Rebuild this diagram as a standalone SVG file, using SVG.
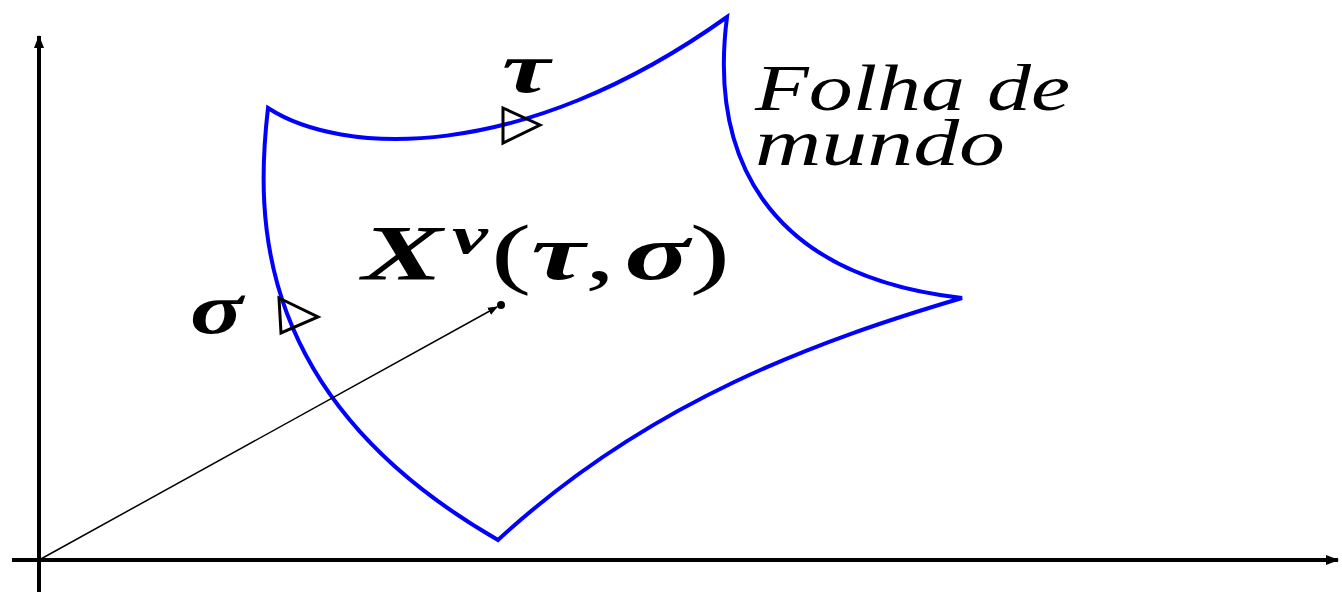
<svg xmlns="http://www.w3.org/2000/svg" width="1342" height="594" viewBox="0 0 1342 594">
<style>
.axis{stroke:#000;stroke-width:4;fill:none}
.sheet{stroke:#0000ff;stroke-width:4;fill:none;stroke-linejoin:miter}
.tri{stroke:#000;stroke-width:3;fill:none}
.math{font-family:"Liberation Serif",serif;font-style:italic;font-weight:bold;fill:#000}
.up{font-weight:normal;font-style:normal}
.txt{font-family:"Liberation Serif",serif;font-style:italic;fill:#000}
</style>
<defs>
<marker id="ah" markerWidth="10" markerHeight="10" refX="9" refY="5" orient="auto" markerUnits="userSpaceOnUse">
<path d="M0,1 L10,5 L0,9 Z" fill="#000"/>
</marker>
<marker id="axh" markerWidth="14" markerHeight="14" refX="12" refY="7" orient="auto" markerUnits="userSpaceOnUse">
<path d="M0,2 L13,7 L0,12 Z" fill="#000"/>
</marker>
</defs>
<g id="axes">
<line class="axis" x1="39" y1="592" x2="39" y2="36" marker-end="url(#axh)"/>
<line class="axis" x1="12" y1="560" x2="1338" y2="560" marker-end="url(#axh)"/>
</g>
<g id="sheet">
<path class="sheet" d="M268,108 C340,155 520,165 727,17 C710,150 760,275 962,298 C820,340 650,400 498,540 C255,400 255,220 268,108 Z"/>
</g>
<g id="connectors">
<line x1="39" y1="560" x2="497" y2="307" stroke="#000" stroke-width="1.5" marker-end="url(#ah)"/>
<circle cx="501" cy="305" r="4" fill="#000"/>
</g>
<g id="tau-marker"><path class="tri" d="M503,108 L540,125 L503,143 Z"/></g>
<g id="sigma-marker"><path class="tri" d="M279,298 L318,317 L281,333 Z"/></g>
<g id="labels">
<text class="math" x="502" y="92" font-size="72" textLength="48" lengthAdjust="spacingAndGlyphs">τ</text>
<text class="math" x="190" y="333" font-size="72" textLength="53" lengthAdjust="spacingAndGlyphs">σ</text>
<text class="math" font-size="78" x="362" y="279" textLength="368" lengthAdjust="spacingAndGlyphs">X<tspan dx="6" dy="-26" font-size="52">ν</tspan><tspan class="up" dx="2" dy="26">(</tspan>τ<tspan class="up">,</tspan><tspan dx="6">σ</tspan><tspan class="up">)</tspan></text>
<text class="txt" font-size="66"><tspan x="755" y="110" textLength="315" lengthAdjust="spacingAndGlyphs">Folha de</tspan><tspan x="755" y="165" textLength="250" lengthAdjust="spacingAndGlyphs">mundo</tspan></text>
</g>
</svg>
